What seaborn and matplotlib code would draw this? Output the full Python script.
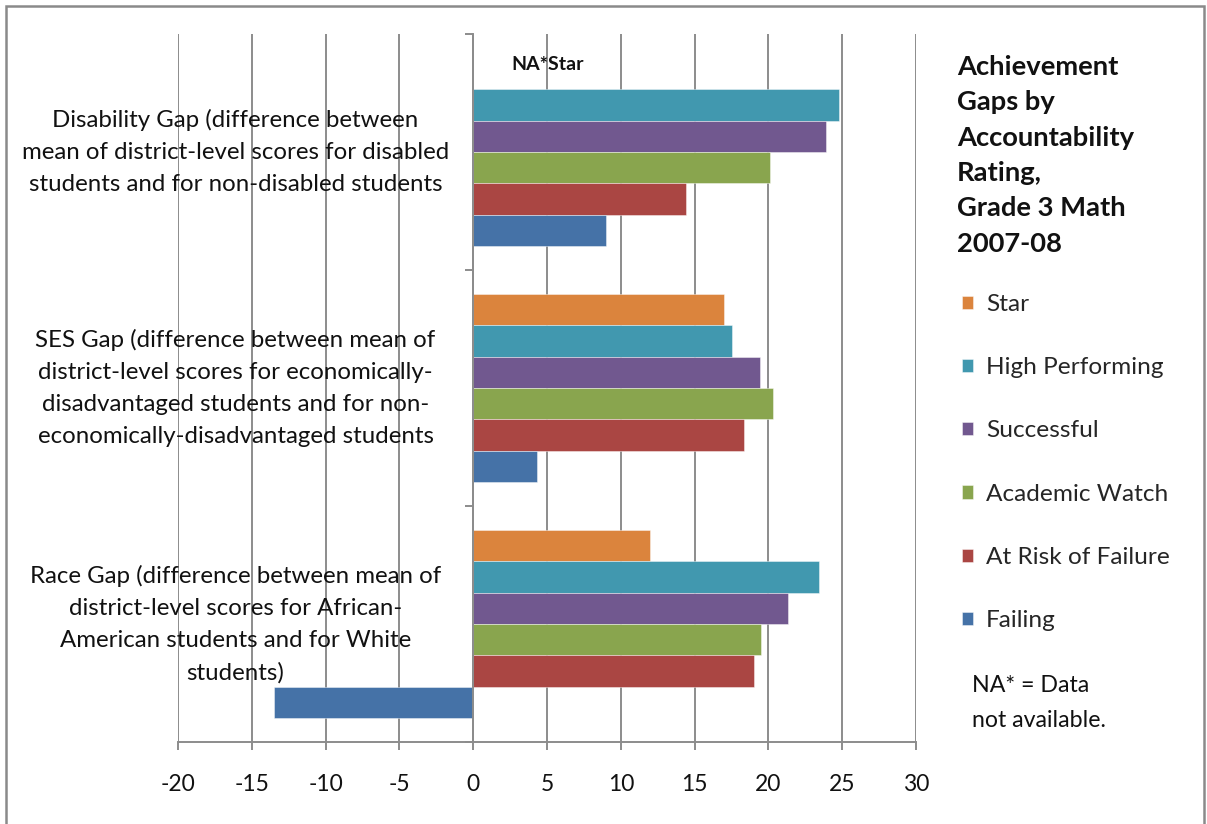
import numpy as np
import pandas as pd
import matplotlib
matplotlib.use("Agg")
import matplotlib.pyplot as plt
from matplotlib.patches import Rectangle
import seaborn as sns

# Gap categories (one group of bars each), top to bottom
categories = [
    "Disability Gap (difference between\nmean of district-level scores for disabled\nstudents and for non-disabled students",
    "SES Gap (difference between mean of\ndistrict-level scores for economically-\ndisadvantaged students and for non-\neconomically-disadvantaged students",
    "Race Gap (difference between mean of\ndistrict-level scores for African-\nAmerican students and for White\nstudents)",
]

# Accountability ratings (legend order)
ratings = ["Star", "High Performing", "Successful", "Academic Watch",
           "At Risk of Failure", "Failing"]

# Gap values per rating, one entry per category
star = [np.nan, 17.0, 12.0]
high_performing = [24.8, 17.5, 23.4]
successful = [23.9, 19.45, 21.3]
academic_watch = [20.1, 20.3, 19.5]
at_risk = [14.4, 18.35, 19.0]
failing = [9.0, 4.3, -13.5]

x_ticks = [-20, -15, -10, -5, 0, 5, 10, 15, 20, 25, 30]

colors = ["#DB843D", "#4198AF", "#71588F", "#89A54E", "#AA4643", "#4572A7"]

series = [star, high_performing, successful, academic_watch, at_risk, failing]
rows = []
for rating, vals in zip(ratings, series):
    for cat, v in zip(categories, vals):
        rows.append({"category": cat, "rating": rating, "gap": v})
df = pd.DataFrame(rows)

sns.set_theme(style="white")
plt.rcParams["font.family"] = ["Lato", "DejaVu Sans"]

W, H = 1207, 824
fig = plt.figure(figsize=(W / 100, H / 100), dpi=100)
ax = fig.add_axes([178 / W, 1 - 742 / H, (916 - 178) / W, (742 - 34) / H])

sns.barplot(data=df, y="category", x="gap", hue="rating", hue_order=ratings,
            order=categories, palette=colors, saturation=1, orient="h",
            width=0.8, errorbar=None, ax=ax, edgecolor=(1, 1, 1, 0.5),
            linewidth=0.6, zorder=3)

ax.set_xlim(-20, 30)
ax.set_ylim(2.5, -0.5)
ax.set_xticks(x_ticks)
ax.set_xticklabels([str(t) for t in x_ticks], fontsize=16.5, color="#111111")
ax.set_xlabel("")
ax.set_ylabel("")

grid_c = "#8c8c8c"
ax.grid(axis="x", color=grid_c, linewidth=1.4, zorder=0)
ax.grid(axis="y", visible=False)

for side in ["top", "right"]:
    ax.spines[side].set_visible(False)
ax.spines["bottom"].set_color(grid_c)
ax.spines["bottom"].set_linewidth(1.4)
ax.spines["left"].set_position(("data", 0))
ax.spines["left"].set_color(grid_c)
ax.spines["left"].set_linewidth(1.4)
ax.spines["left"].set_zorder(4)

ax.set_yticks([-0.5, 0.5, 1.5, 2.5])
ax.tick_params(axis="y", which="major", left=True, length=6, width=1.4,
               color=grid_c, labelleft=False, direction="out")
ax.tick_params(axis="x", which="major", bottom=True, length=6, width=1.4,
               color=grid_c, pad=17, direction="out")

# Category labels, centred to the left of the zero axis
for i, cat in enumerate(categories):
    ax.text(-16.1, i, cat, ha="center", va="center", multialignment="center",
            fontsize=17.3, color="#111111", linespacing=1.65, zorder=5)

# Missing Star bar for the disability gap
ax.text(5.05, -0.37, "NA*Star", ha="center", va="center", fontsize=14,
        fontweight="bold", color="#111111", zorder=5)

# Legend on the right
handles, labels = ax.get_legend_handles_labels()
if ax.get_legend() is not None:
    ax.get_legend().remove()
fig.legend(handles, labels, loc="upper left",
           bbox_to_anchor=(952 / W, 1 - 284 / H), frameon=False,
           fontsize=17.6, labelspacing=1.73, handlelength=0.45,
           handleheight=0.45, handletextpad=0.55, borderaxespad=0)

fig.text(957 / W, 1 - 55 / H,
         "Achievement\nGaps by\nAccountability\nRating,\nGrade 3 Math\n2007-08",
         ha="left", va="top", fontsize=19.7, fontweight="bold",
         color="#111111", linespacing=1.565)

fig.text(972 / W, 1 - 675 / H, "NA* = Data\nnot available.", ha="left",
         va="top", fontsize=16.7, color="#111111", linespacing=1.81)

# Outer chart border
fig.patches.append(Rectangle((6 / W, -0.02), (1204 - 6) / W, 1.02 - 6 / H,
                             transform=fig.transFigure, fill=False,
                             edgecolor="#8a8a8a", linewidth=1.8))

fig.savefig("out.png", dpi=100)
